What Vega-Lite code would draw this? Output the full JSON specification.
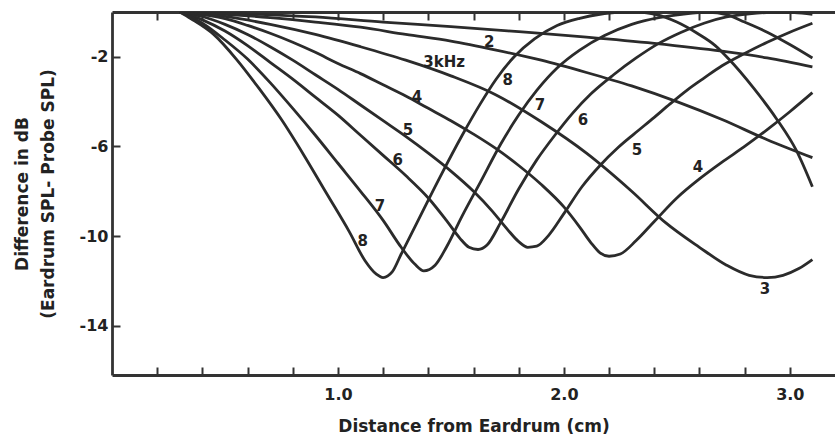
{
  "$schema": "https://vega.github.io/schema/vega-lite/v6.json",
  "width": 723,
  "height": 363,
  "autosize": {"type": "none"},
  "padding": {"left": 112, "top": 12, "right": 0, "bottom": 66},
  "background": "white",
  "config": {"view": {"stroke": null}, "font": "DejaVu Sans"},
  "datasets": {
    "curves": [
      {"f":"1","d":0.3,"db":0},{"f":"1","d":0.6,"db":-0.08},{"f":"1","d":0.9,"db":-0.22},{"f":"1","d":1.2,"db":-0.45},{"f":"1","d":1.5,"db":-0.65},{"f":"1","d":1.8,"db":-0.88},{"f":"1","d":2.1,"db":-1.12},{"f":"1","d":2.4,"db":-1.4},{"f":"1","d":2.7,"db":-1.75},{"f":"1","d":2.9,"db":-2.05},{"f":"1","d":3.1,"db":-2.45},
      {"f":"2","d":0.3,"db":0},{"f":"2","d":0.5,"db":-0.1},{"f":"2","d":0.7,"db":-0.25},{"f":"2","d":0.9,"db":-0.45},{"f":"2","d":1.1,"db":-0.68},{"f":"2","d":1.3,"db":-1.0},{"f":"2","d":1.5,"db":-1.3},{"f":"2","d":1.7,"db":-1.7},{"f":"2","d":1.9,"db":-2.15},{"f":"2","d":2.1,"db":-2.7},{"f":"2","d":2.3,"db":-3.3},{"f":"2","d":2.5,"db":-4.0},{"f":"2","d":2.7,"db":-4.8},{"f":"2","d":2.9,"db":-5.7},{"f":"2","d":3.1,"db":-6.5},
      {"f":"3","d":0.3,"db":0},{"f":"3","d":0.5,"db":-0.2},{"f":"3","d":0.7,"db":-0.55},{"f":"3","d":0.9,"db":-1.0},{"f":"3","d":1.1,"db":-1.55},{"f":"3","d":1.3,"db":-2.15},{"f":"3","d":1.5,"db":-2.85},{"f":"3","d":1.7,"db":-3.7},{"f":"3","d":1.9,"db":-4.9},{"f":"3","d":2.1,"db":-6.3},{"f":"3","d":2.3,"db":-8.0},{"f":"3","d":2.45,"db":-9.4},{"f":"3","d":2.6,"db":-10.5},{"f":"3","d":2.72,"db":-11.3},{"f":"3","d":2.82,"db":-11.75},{"f":"3","d":2.9,"db":-11.85},{"f":"3","d":2.97,"db":-11.75},{"f":"3","d":3.04,"db":-11.45},{"f":"3","d":3.1,"db":-11.05},
      {"f":"4","d":0.3,"db":0},{"f":"4","d":0.4,"db":-0.12},{"f":"4","d":0.5,"db":-0.3},{"f":"4","d":0.6,"db":-0.6},{"f":"4","d":0.7,"db":-0.95},{"f":"4","d":0.8,"db":-1.35},{"f":"4","d":0.9,"db":-1.8},{"f":"4","d":1.0,"db":-2.3},{"f":"4","d":1.1,"db":-2.75},{"f":"4","d":1.2,"db":-3.25},{"f":"4","d":1.3,"db":-3.75},{"f":"4","d":1.4,"db":-4.3},{"f":"4","d":1.5,"db":-4.85},{"f":"4","d":1.6,"db":-5.45},{"f":"4","d":1.7,"db":-6.1},{"f":"4","d":1.8,"db":-6.85},{"f":"4","d":1.9,"db":-7.7},{"f":"4","d":2.0,"db":-8.7},{"f":"4","d":2.07,"db":-9.6},{"f":"4","d":2.12,"db":-10.3},{"f":"4","d":2.16,"db":-10.75},{"f":"4","d":2.2,"db":-10.9},{"f":"4","d":2.25,"db":-10.8},{"f":"4","d":2.32,"db":-10.2},{"f":"4","d":2.4,"db":-9.35},{"f":"4","d":2.5,"db":-8.3},{"f":"4","d":2.6,"db":-7.45},{"f":"4","d":2.7,"db":-6.7},{"f":"4","d":2.8,"db":-6.0},{"f":"4","d":2.9,"db":-5.25},{"f":"4","d":3.0,"db":-4.45},{"f":"4","d":3.1,"db":-3.6},
      {"f":"5","d":0.3,"db":0},{"f":"5","d":0.4,"db":-0.2},{"f":"5","d":0.5,"db":-0.55},{"f":"5","d":0.6,"db":-1.0},{"f":"5","d":0.7,"db":-1.55},{"f":"5","d":0.8,"db":-2.15},{"f":"5","d":0.9,"db":-2.8},{"f":"5","d":1.0,"db":-3.45},{"f":"5","d":1.1,"db":-4.15},{"f":"5","d":1.2,"db":-4.85},{"f":"5","d":1.3,"db":-5.55},{"f":"5","d":1.4,"db":-6.3},{"f":"5","d":1.5,"db":-7.1},{"f":"5","d":1.6,"db":-8.0},{"f":"5","d":1.68,"db":-8.85},{"f":"5","d":1.75,"db":-9.7},{"f":"5","d":1.8,"db":-10.25},{"f":"5","d":1.84,"db":-10.5},{"f":"5","d":1.88,"db":-10.45},{"f":"5","d":1.93,"db":-10.0},{"f":"5","d":2.0,"db":-9.0},{"f":"5","d":2.08,"db":-7.8},{"f":"5","d":2.16,"db":-6.85},{"f":"5","d":2.24,"db":-6.05},{"f":"5","d":2.31,"db":-5.45},{"f":"5","d":2.4,"db":-4.7},{"f":"5","d":2.47,"db":-4.1},{"f":"5","d":2.55,"db":-3.45},{"f":"5","d":2.62,"db":-2.95},{"f":"5","d":2.7,"db":-2.4},{"f":"5","d":2.8,"db":-1.85},{"f":"5","d":2.9,"db":-1.35},{"f":"5","d":3.0,"db":-0.9},{"f":"5","d":3.1,"db":-0.5},
      {"f":"6","d":0.3,"db":0},{"f":"6","d":0.4,"db":-0.35},{"f":"6","d":0.5,"db":-0.85},{"f":"6","d":0.6,"db":-1.5},{"f":"6","d":0.7,"db":-2.25},{"f":"6","d":0.8,"db":-3.0},{"f":"6","d":0.9,"db":-3.8},{"f":"6","d":1.0,"db":-4.6},{"f":"6","d":1.1,"db":-5.5},{"f":"6","d":1.2,"db":-6.4},{"f":"6","d":1.3,"db":-7.3},{"f":"6","d":1.4,"db":-8.3},{"f":"6","d":1.48,"db":-9.3},{"f":"6","d":1.54,"db":-10.1},{"f":"6","d":1.58,"db":-10.5},{"f":"6","d":1.62,"db":-10.6},{"f":"6","d":1.66,"db":-10.4},{"f":"6","d":1.72,"db":-9.4},{"f":"6","d":1.8,"db":-7.9},{"f":"6","d":1.88,"db":-6.6},{"f":"6","d":1.96,"db":-5.5},{"f":"6","d":2.04,"db":-4.5},{"f":"6","d":2.12,"db":-3.65},{"f":"6","d":2.22,"db":-2.8},{"f":"6","d":2.32,"db":-2.05},{"f":"6","d":2.42,"db":-1.4},{"f":"6","d":2.52,"db":-0.9},{"f":"6","d":2.62,"db":-0.5},{"f":"6","d":2.72,"db":-0.22},{"f":"6","d":2.82,"db":-0.08},{"f":"6","d":2.92,"db":-0.02},{"f":"6","d":3.02,"db":-0.03},{"f":"6","d":3.1,"db":-0.1},
      {"f":"7","d":0.3,"db":0},{"f":"7","d":0.4,"db":-0.5},{"f":"7","d":0.5,"db":-1.25},{"f":"7","d":0.6,"db":-2.1},{"f":"7","d":0.7,"db":-3.15},{"f":"7","d":0.8,"db":-4.3},{"f":"7","d":0.9,"db":-5.5},{"f":"7","d":1.0,"db":-6.75},{"f":"7","d":1.1,"db":-8.0},{"f":"7","d":1.2,"db":-9.3},{"f":"7","d":1.28,"db":-10.5},{"f":"7","d":1.34,"db":-11.25},{"f":"7","d":1.38,"db":-11.55},{"f":"7","d":1.43,"db":-11.3},{"f":"7","d":1.48,"db":-10.5},{"f":"7","d":1.55,"db":-9.1},{"f":"7","d":1.63,"db":-7.6},{"f":"7","d":1.72,"db":-5.9},{"f":"7","d":1.8,"db":-4.6},{"f":"7","d":1.88,"db":-3.5},{"f":"7","d":1.97,"db":-2.5},{"f":"7","d":2.07,"db":-1.7},{"f":"7","d":2.18,"db":-1.05},{"f":"7","d":2.3,"db":-0.55},{"f":"7","d":2.42,"db":-0.25},{"f":"7","d":2.54,"db":-0.08},{"f":"7","d":2.64,"db":-0.02},{"f":"7","d":2.72,"db":-0.12},{"f":"7","d":2.8,"db":-0.45},{"f":"7","d":2.9,"db":-0.9},{"f":"7","d":3.0,"db":-1.45},{"f":"7","d":3.1,"db":-2.05},
      {"f":"8","d":0.3,"db":0},{"f":"8","d":0.35,"db":-0.3},{"f":"8","d":0.45,"db":-1.0},{"f":"8","d":0.55,"db":-2.1},{"f":"8","d":0.65,"db":-3.4},{"f":"8","d":0.75,"db":-4.8},{"f":"8","d":0.85,"db":-6.4},{"f":"8","d":0.95,"db":-8.1},{"f":"8","d":1.05,"db":-9.8},{"f":"8","d":1.12,"db":-11.1},{"f":"8","d":1.17,"db":-11.7},{"f":"8","d":1.2,"db":-11.85},{"f":"8","d":1.24,"db":-11.6},{"f":"8","d":1.28,"db":-10.8},{"f":"8","d":1.35,"db":-9.4},{"f":"8","d":1.45,"db":-7.4},{"f":"8","d":1.55,"db":-5.5},{"f":"8","d":1.63,"db":-4.1},{"f":"8","d":1.7,"db":-3.0},{"f":"8","d":1.78,"db":-2.0},{"f":"8","d":1.87,"db":-1.2},{"f":"8","d":1.97,"db":-0.6},{"f":"8","d":2.07,"db":-0.28},{"f":"8","d":2.16,"db":-0.1},{"f":"8","d":2.25,"db":-0.02},{"f":"8","d":2.33,"db":0},{"f":"8","d":2.41,"db":-0.12},{"f":"8","d":2.5,"db":-0.45},{"f":"8","d":2.59,"db":-0.95},{"f":"8","d":2.67,"db":-1.5},{"f":"8","d":2.73,"db":-2.1},{"f":"8","d":2.84,"db":-3.4},{"f":"8","d":2.94,"db":-4.75},{"f":"8","d":3.03,"db":-6.2},{"f":"8","d":3.1,"db":-7.8}
    ],
    "labels": [
      {"lx":1.67,"ly":-1.34,"t":"2"},
      {"lx":1.47,"ly":-2.23,"t":"3kHz"},
      {"lx":1.35,"ly":-3.79,"t":"4"},
      {"lx":1.31,"ly":-5.26,"t":"5"},
      {"lx":1.265,"ly":-6.59,"t":"6"},
      {"lx":1.186,"ly":-8.68,"t":"7"},
      {"lx":1.11,"ly":-10.23,"t":"8"},
      {"lx":1.752,"ly":-3.03,"t":"8"},
      {"lx":1.894,"ly":-4.15,"t":"7"},
      {"lx":2.084,"ly":-4.81,"t":"6"},
      {"lx":2.323,"ly":-6.15,"t":"5"},
      {"lx":2.593,"ly":-6.9,"t":"4"},
      {"lx":2.89,"ly":-12.37,"t":"3"}
    ]
  },
  "layer": [
    {
      "data": {"name": "curves"},
      "mark": {"type": "line", "interpolate": "monotone", "strokeWidth": 2.8, "color": "#2b2b2b", "clip": true},
      "encoding": {
        "x": {
          "field": "d", "type": "quantitative",
          "scale": {"domain": [0, 3.2], "nice": false, "zero": false},
          "axis": {
            "orient": "bottom",
            "values": [0.2,0.4,0.6,0.8,1,1.2,1.4,1.6,1.8,2,2.2,2.4,2.6,2.8,3],
            "labelExpr": "datum.value == 1 || datum.value == 2 || datum.value == 3 ? format(datum.value, '.1f') : ''",
            "tickSize": -8, "tickWidth": 2, "tickColor": "#333",
            "domainColor": "#333", "domainWidth": 2.8,
            "labelFontSize": 16, "labelFontWeight": "bold", "labelColor": "#222", "labelPadding": 19,
            "labelFlush": false, "labelOverlap": false,
            "grid": false,
            "title": "Distance from Eardrum (cm)",
            "titleFontSize": 17, "titleFontWeight": "bold", "titleColor": "#222", "titlePadding": 16
          }
        },
        "y": {
          "field": "db", "type": "quantitative",
          "scale": {"domain": [-16.2, 0], "nice": false, "zero": false},
          "axis": {
            "values": [-2, -6, -10, -14],
            "labelExpr": "'-' + format(-datum.value, 'd')",
            "tickSize": -8, "tickWidth": 2, "tickColor": "#333",
            "domainColor": "#333", "domainWidth": 2.8,
            "labelFontSize": 16, "labelFontWeight": "bold", "labelColor": "#222", "labelPadding": 12,
            "grid": false,
            "title": ["Difference in dB", "(Eardrum SPL- Probe SPL)"],
            "titleFontSize": 17, "titleFontWeight": "bold", "titleColor": "#222",
            "titlePadding": 22, "titleLineHeight": 26
          }
        },
        "detail": {"field": "f"}
      }
    },
    {
      "data": {"name": "labels"},
      "mark": {"type": "text", "fontSize": 15, "fontWeight": "bold", "color": "#222", "align": "center", "baseline": "middle"},
      "encoding": {
        "x": {
          "field": "lx", "type": "quantitative",
          "axis": {
            "orient": "top",
            "values": [0.2,0.4,0.6,0.8,1,1.2,1.4,1.6,1.8,2,2.2,2.4,2.6,2.8,3],
            "labels": false, "tickSize": -8, "tickWidth": 2, "tickColor": "#333",
            "domainColor": "#333", "domainWidth": 2.8, "grid": false, "title": null
          }
        },
        "y": {"field": "ly", "type": "quantitative"},
        "text": {"field": "t"}
      }
    }
  ],
  "resolve": {"axis": {"x": "independent"}}
}
